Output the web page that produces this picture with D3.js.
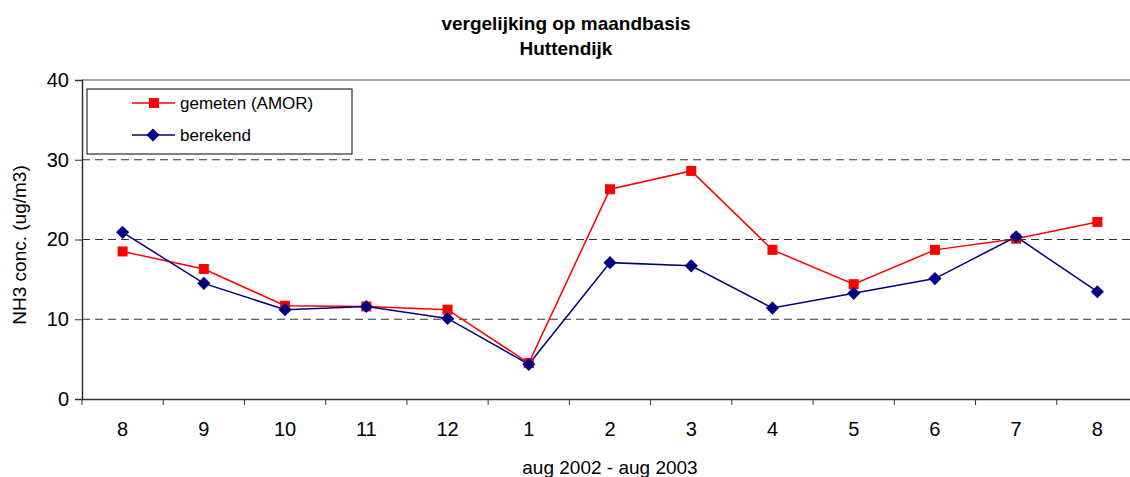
<!DOCTYPE html>
<html>
<head>
<meta charset="utf-8">
<script src="https://cdn.jsdelivr.net/npm/d3@7"></script>
<style>
  body { margin: 0; background: #fff; }
  text { font-family: "Liberation Sans", Arial, sans-serif; fill: #000; }
</style>
</head>
<body>
<script>
// months aug 2002 - aug 2003
var months = ["8", "9", "10", "11", "12", "1", "2", "3", "4", "5", "6", "7", "8"];
var gemeten = [18.5, 16.3, 11.7, 11.6, 11.2, 4.5, 26.3, 28.6, 18.7, 14.4, 18.7, 20.1, 22.2];
var berekend = [20.9, 14.5, 11.2, 11.6, 10.1, 4.35, 17.1, 16.7, 11.4, 13.25, 15.1, 20.35, 13.45];
var yTicks = [0, 10, 20, 30, 40];

var W = 1130, H = 477;
var mLeft = 82, mTop = 80, plotW = 1056, plotH = 319;

var svg = d3.select("body").append("svg")
  .attr("width", W)
  .attr("height", H);

var x = d3.scaleBand()
  .domain(d3.range(months.length))
  .range([0, plotW]);

var y = d3.scaleLinear()
  .domain([0, 40])
  .range([plotH, 0]);

var g = svg.append("g").attr("transform", "translate(" + mLeft + "," + mTop + ")");

// gridlines
g.selectAll(".grid")
  .data([10, 20, 30])
  .enter().append("line")
    .attr("x1", 0).attr("x2", plotW)
    .attr("y1", function(d) { return y(d); })
    .attr("y2", function(d) { return y(d); })
    .attr("stroke", "#333")
    .attr("stroke-dasharray", "8,5");

// top border
g.append("line")
  .attr("x1", 0).attr("x2", plotW)
  .attr("y1", 0).attr("y2", 0)
  .attr("stroke", "#888").attr("stroke-width", 1.5);

// y axis
var yAxis = g.append("g")
  .call(d3.axisLeft(y).tickValues(yTicks).tickSize(7).tickPadding(6));
yAxis.select(".domain").attr("stroke", "#333").attr("stroke-width", 1.5);
yAxis.selectAll(".tick line").attr("stroke", "#333");
yAxis.selectAll("text").style("font-size", "20px");

// x axis, ticks at category boundaries
var xAxis = g.append("g")
  .attr("transform", "translate(0," + plotH + ")")
  .call(d3.axisBottom(x).tickFormat(function(i) { return months[i]; }).tickSize(0).tickPadding(23));
xAxis.select(".domain").attr("stroke", "#333").attr("stroke-width", 1.5);
xAxis.selectAll("text").style("font-size", "20px");
xAxis.selectAll(".bound")
  .data(d3.range(months.length))
  .enter().append("line")
    .attr("x1", function(i) { return x(i); })
    .attr("x2", function(i) { return x(i); })
    .attr("y1", 0).attr("y2", 6)
    .attr("stroke", "#333");

var line = d3.line()
  .x(function(d, i) { return x(i) + x.bandwidth() / 2; })
  .y(function(d) { return y(d); });

g.append("path").datum(gemeten)
  .attr("d", line).attr("fill", "none")
  .attr("stroke", "#ff0000").attr("stroke-width", 1.5);

g.append("path").datum(berekend)
  .attr("d", line).attr("fill", "none")
  .attr("stroke", "#000080").attr("stroke-width", 1.5);

g.selectAll(".sq")
  .data(gemeten)
  .enter().append("rect")
    .attr("x", function(d, i) { return x(i) + x.bandwidth() / 2 - 5; })
    .attr("y", function(d) { return y(d) - 5; })
    .attr("width", 10).attr("height", 10)
    .attr("fill", "#ff0000");

var diamond = d3.symbol().type(d3.symbolDiamond2).size(110);
g.selectAll(".dm")
  .data(berekend)
  .enter().append("path")
    .attr("d", diamond)
    .attr("transform", function(d, i) { return "translate(" + (x(i) + x.bandwidth() / 2) + "," + y(d) + ")"; })
    .attr("fill", "#000080");

// legend
var lg = svg.append("g").attr("transform", "translate(87,89)");
lg.append("rect")
  .attr("width", 265).attr("height", 65)
  .attr("fill", "#fff").attr("stroke", "#000");
var legendItems = [
  { name: "gemeten (AMOR)", color: "#ff0000", shape: "sq" },
  { name: "berekend", color: "#000080", shape: "dm" }
];
legendItems.forEach(function(it, i) {
  var cy = 14 + i * 32;
  lg.append("line").attr("x1", 45).attr("x2", 88)
    .attr("y1", cy).attr("y2", cy)
    .attr("stroke", it.color).attr("stroke-width", 1.5);
  if (it.shape == "sq") {
    lg.append("rect").attr("x", 62).attr("y", cy - 5).attr("width", 10).attr("height", 10).attr("fill", it.color);
  } else {
    lg.append("path").attr("d", diamond).attr("transform", "translate(66," + cy + ")").attr("fill", it.color);
  }
  lg.append("text").attr("x", 93).attr("y", cy + 6)
    .style("font-size", "17px").text(it.name);
});

// titles
svg.append("text")
  .attr("x", 566).attr("y", 30)
  .attr("text-anchor", "middle")
  .style("font-size", "19px").style("font-weight", "bold")
  .text("vergelijking op maandbasis");
svg.append("text")
  .attr("x", 566).attr("y", 55)
  .attr("text-anchor", "middle")
  .style("font-size", "19px").style("font-weight", "bold")
  .text("Huttendijk");

svg.append("text")
  .attr("x", mLeft + plotW / 2).attr("y", 474)
  .attr("text-anchor", "middle")
  .style("font-size", "19px")
  .text("aug 2002 - aug 2003");

svg.append("text")
  .attr("transform", "translate(26,245) rotate(-90)")
  .attr("text-anchor", "middle")
  .style("font-size", "19px")
  .text("NH3 conc. (ug/m3)");
</script>
</body>
</html>
